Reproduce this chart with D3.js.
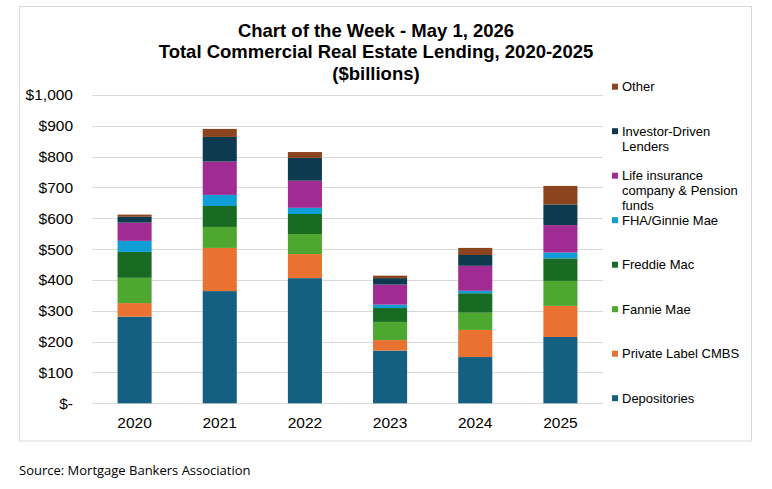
<!DOCTYPE html>
<html>
<head>
<meta charset="utf-8">
<script src="https://cdn.jsdelivr.net/npm/d3@7"></script>
<style>
  body { margin: 0; background: #fff; }
  svg { display: block; font-family: Arial, "Liberation Sans", sans-serif; }
</style>
</head>
<body>
<script>
const w = 772;
const h = 489;

// values in $billions
const years = ["2020", "2021", "2022", "2023", "2024", "2025"];
const depositories = [281, 364, 406, 171, 150, 215];
const privateLabel = [44, 140, 78, 34, 88, 101];
const fannieMae = [82, 68, 65, 59, 56, 81];
const freddieMac = [84, 68, 65, 45, 63, 73];
const fhaGinnie = [36, 36, 20, 11, 8, 19];
const lifeInsurance = [59, 108, 88, 65, 81, 89];
const investorDriven = [19, 80, 74, 21, 35, 67];
const other = [7, 26, 19, 8, 23, 60];
const yTicks = [0, 100, 200, 300, 400, 500, 600, 700, 800, 900, 1000];

const series = [
  { key: "dep", label: ["Depositories"], values: depositories, color: "#156082" },
  { key: "pl", label: ["Private Label CMBS"], values: privateLabel, color: "#E97132" },
  { key: "fannie", label: ["Fannie Mae"], values: fannieMae, color: "#4EA72E" },
  { key: "freddie", label: ["Freddie Mac"], values: freddieMac, color: "#196B24" },
  { key: "fha", label: ["FHA/Ginnie Mae"], values: fhaGinnie, color: "#0F9ED5" },
  { key: "life", label: ["Life insurance", "company & Pension", "funds"], values: lifeInsurance, color: "#A02B93" },
  { key: "inv", label: ["Investor-Driven", "Lenders"], values: investorDriven, color: "#0D3A4E" },
  { key: "other", label: ["Other"], values: other, color: "#8C441E" },
];

const rows = years.map((y, i) => {
  const r = { year: y };
  series.forEach((s) => (r[s.key] = s.values[i]));
  return r;
});

const svg = d3.select("body").append("svg").attr("width", w).attr("height", h);

svg.append("rect")
  .attr("x", 19.5).attr("y", 6.5)
  .attr("width", 732).attr("height", 434.5)
  .attr("fill", "none").attr("stroke", "#d9d9d9");

// title
const titleLines = ["Chart of the Week - May 1, 2026", "Total Commercial Real Estate Lending, 2020-2025", "($billions)"];
svg.append("g").selectAll("text")
  .data(titleLines)
  .join("text")
  .attr("x", 376)
  .attr("y", (d, i) => 36.5 + i * 21.6)
  .attr("text-anchor", "middle")
  .attr("font-weight", "bold")
  .attr("font-size", "18.5px")
  .attr("fill", "#000")
  .text((d) => d);

const x = d3.scaleBand().domain(years).range([92, 603]).paddingInner(0.6).paddingOuter(0.3);
const y = d3.scaleLinear().domain([0, 1000]).range([403.3, 95]);

// gridlines
svg.append("g").selectAll("line")
  .data(yTicks)
  .join("line")
  .attr("x1", 92).attr("x2", 603)
  .attr("y1", (d) => Math.round(y(d)) + 0.5)
  .attr("y2", (d) => Math.round(y(d)) + 0.5)
  .attr("stroke", "#d9d9d9");

// y labels
const fmt = d3.format("$,");
svg.append("g").selectAll("text")
  .data(yTicks)
  .join("text")
  .attr("x", 73)
  .attr("y", (d) => y(d))
  .attr("dy", "0.35em")
  .attr("text-anchor", "end")
  .attr("font-size", "15.5px")
  .attr("fill", "#000")
  .text((d) => (d === 0 ? "$-" : fmt(d)));

// bars
const stacked = d3.stack().keys(series.map((s) => s.key))(rows);
svg.append("g").selectAll("g")
  .data(stacked)
  .join("g")
  .attr("fill", (d, i) => series[i].color)
  .selectAll("rect")
  .data((d) => d)
  .join("rect")
  .attr("x", (d) => x(d.data.year))
  .attr("width", x.bandwidth())
  .attr("y", (d) => y(d[1]))
  .attr("height", (d) => y(d[0]) - y(d[1]));

// x labels
svg.append("g").selectAll("text")
  .data(years)
  .join("text")
  .attr("x", (d) => x(d) + x.bandwidth() / 2)
  .attr("y", 428)
  .attr("text-anchor", "middle")
  .attr("font-size", "15.5px")
  .attr("fill", "#000")
  .text((d) => d);

// legend, top item is "Other"
const legend = svg.append("g")
  .selectAll("g")
  .data(series.slice().reverse())
  .join("g")
  .attr("transform", (d, i) => `translate(612, ${86.7 + i * 44.5})`);

legend.append("rect")
  .attr("x", 0).attr("y", -3)
  .attr("width", 6).attr("height", 6)
  .attr("fill", (d) => d.color);

legend.each(function (d) {
  const t = d3.select(this).append("text")
    .attr("font-size", "13px")
    .attr("fill", "#000");
  d.label.forEach((line, j) => {
    t.append("tspan")
      .attr("x", 10)
      .attr("y", j * 15)
      .attr("dy", "0.35em")
      .text(line);
  });
});

svg.append("text")
  .attr("x", 19)
  .attr("y", 475)
  .attr("font-family", "'Open Sans', 'Noto Sans', sans-serif")
  .attr("font-size", "13px")
  .attr("fill", "#000")
  .text("Source: Mortgage Bankers Association");
</script>
</body>
</html>
